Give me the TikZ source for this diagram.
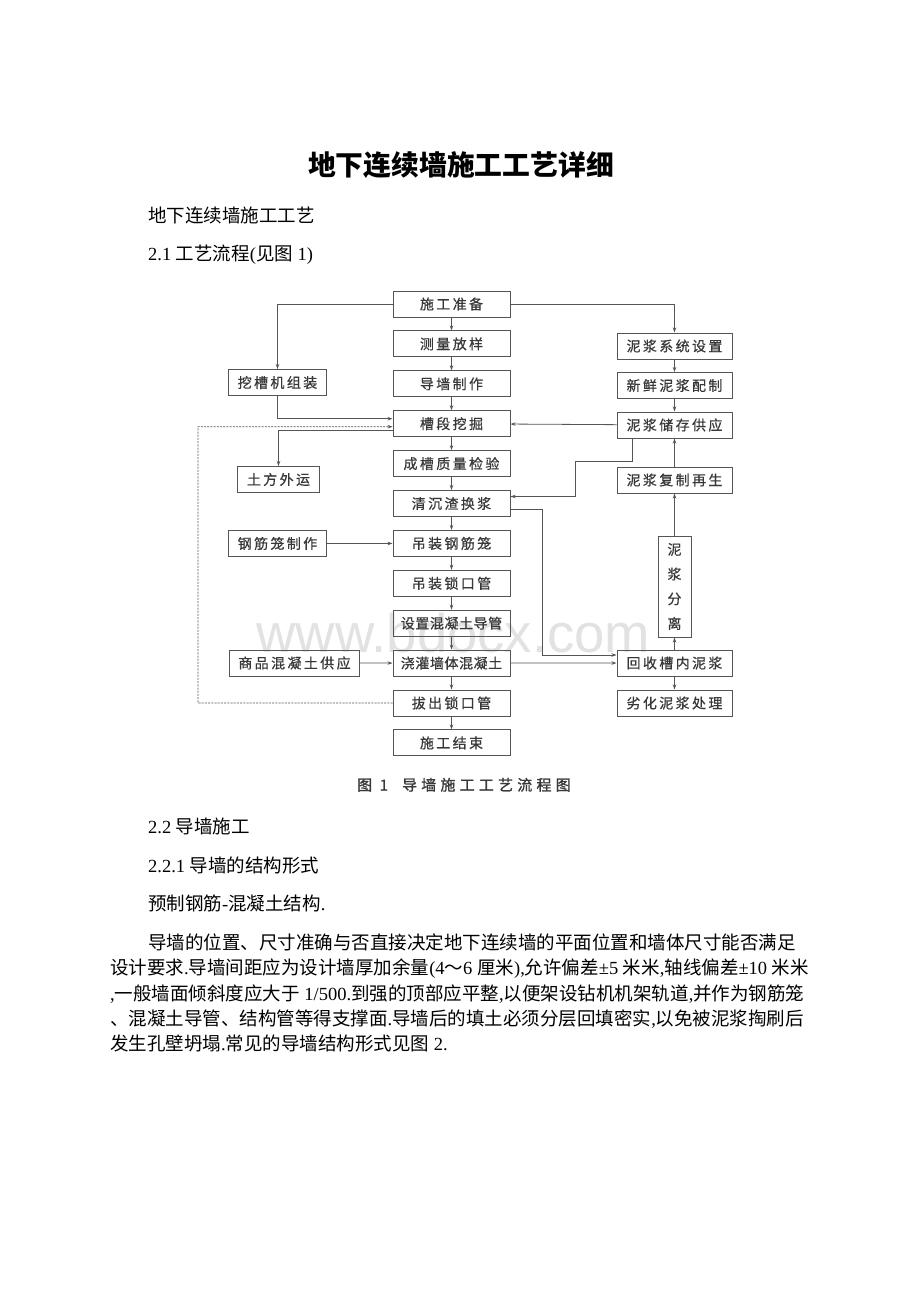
\documentclass[tikz,border=0pt]{standalone}
\usepackage{fontspec}
\setmainfont{Liberation Serif}
\newfontfamily\cjk{Noto Sans CJK SC}
\newfontfamily\boxfont[LetterSpace=17, FakeBold=0.6]{Noto Sans CJK SC}
\newfontfamily\tightfont[LetterSpace=4, FakeBold=0.6]{Noto Sans CJK SC}
\newfontfamily\capfont[LetterSpace=28, FakeBold=1.2]{Noto Sans CJK SC}
\newfontfamily\wmfont{Liberation Sans}
\usetikzlibrary{arrows.meta}

\definecolor{boxgray}{HTML}{555555}
\definecolor{textgray}{HTML}{383838}
\definecolor{markgray}{HTML}{E2E2E2}

\tikzstyle{mainbox}=[rectangle, minimum width=117pt, minimum height=26pt, inner xsep=2pt, text centered, draw=boxgray, line width=1pt, text=textgray, font=\boxfont\fontsize{14}{16}\selectfont]
\tikzstyle{longbox}=[mainbox, font=\tightfont\fontsize{14}{16}\selectfont]
\tikzstyle{sidebox}=[mainbox, minimum width=115pt]
\tikzstyle{leftbox}=[mainbox, minimum width=0pt, inner xsep=9pt]
\tikzstyle{arrow}=[draw=boxgray, line width=0.8pt, -{Stealth[length=5pt,width=3.5pt]}]
\tikzstyle{dotline}=[arrow, dash pattern=on 2pt off 1.2pt, line width=0.6pt]
\tikzstyle{bodytext}=[anchor=base west, inner sep=0pt, font=\fontsize{18.5}{22}\selectfont]

\begin{document}
\begin{tikzpicture}[x=1pt, y=-1pt, node distance=39.9pt]

\fill[white] (0,0) rectangle (920,1302);
\useasboundingbox (0,0) rectangle (920,1302);

% page text above the chart
\node(title)[anchor=base, inner sep=0pt, font=\cjk\bfseries\fontsize{27.8}{32}\selectfont] at (461,175.5){地下连续墙施工工艺详细};
\node(s0)[bodytext] at (148,222){{\cjk 地下连续墙施工工艺}};
\node(s1)[bodytext] at (148,260){2.1 {\cjk 工艺流程}({\cjk 见图} 1)};

% watermark
\node(wm)[anchor=base, inner sep=0pt, text=markgray, font=\wmfont\fontsize{54.5}{60}\selectfont] at (453.5,652){www.bdocx.com};

% main column
\node(m0)[mainbox] at (451.5,304){施工准备};
\node(m1)[mainbox, below of=m0]{测量放样};
\node(m2)[mainbox, below of=m1]{导墙制作};
\node(m3)[mainbox, below of=m2]{槽段挖掘};
\node(m4)[mainbox, below of=m3]{成槽质量检验};
\node(m5)[mainbox, below of=m4]{清沉渣换浆};
\node(m6)[mainbox, below of=m5]{吊装钢筋笼};
\node(m7)[mainbox, below of=m6]{吊装锁口管};
\node(m8)[longbox, below of=m7]{设置混凝土导管};
\node(m9)[longbox, below of=m8]{浇灌墙体混凝土};
\node(m10)[mainbox, below of=m9]{拔出锁口管};
\node(m11)[mainbox, below of=m10]{施工结束};

% left side
\node(l1)[leftbox] at (277.5,382.5){挖槽机组装};
\node(l2)[leftbox] at (278.5,479.5){土方外运};
\node(l3)[leftbox] at (277.5,543.5){钢筋笼制作};
\node(l4)[leftbox] at (294.5,663){商品混凝土供应};

% slurry side
\node(r1)[sidebox] at (674.5,346){泥浆系统设置};
\node(r2)[sidebox] at (674.5,385.5){新鲜泥浆配制};
\node(r3)[sidebox] at (674.5,425){泥浆储存供应};
\node(r4)[sidebox] at (674.5,480){泥浆复制再生};
\node(r5)[mainbox, minimum width=33pt, minimum height=101pt, inner xsep=0pt, align=center, font=\boxfont\fontsize{14}{24.7}\selectfont] at (674.5,586.5){泥\\浆\\分\\离};
\node(r6)[sidebox] at (674.5,663){回收槽内泥浆};
\node(r7)[sidebox] at (674.5,703){劣化泥浆处理};

\coordinate(c1) at (575,461);
\coordinate(dl) at (198,703);

\draw[arrow](m0)--(m1);
\draw[arrow](m1)--(m2);
\draw[arrow](m2)--(m3);
\draw[arrow](m3)--(m4);
\draw[arrow](m4)--(m5);
\draw[arrow](m5)--(m6);
\draw[arrow](m6)--(m7);
\draw[arrow](m7)--(m8);
\draw[arrow](m8)--(m9);
\draw[arrow](m9)--(m10);
\draw[arrow](m10)--(m11);

\draw[arrow](m0.west) -| (l1.north);
\draw[arrow](l1.south) |- ([yshift=5pt]m3.west);
\draw[dotline](m10.west) -- (dl) |- ([yshift=-3pt]m3.west);
\draw[arrow]([yshift=-7pt]m3.west) -| (l2.north);
\draw[arrow](l3) -- (m6);
\draw[arrow](l4) -- (m9);

\draw[arrow](m0.east) -| (r1.north);
\draw[arrow](r1)--(r2);
\draw[arrow](r2)--(r3);
\draw[arrow](r3) -- (m3);
\draw[arrow]([xshift=-42.5pt]r3.south) |- (c1) |- ([yshift=7pt]m5.east);
\draw[arrow]([yshift=-6pt]m5.east) -- ++(32,0) |- ([yshift=8pt]r6.west);
\draw[arrow](m9) -- (r6);
\draw[arrow](r6) -- (r5);
\draw[arrow](r5) -- (r4);
\draw[arrow](r4) -- (r3);
\draw[arrow](r6) -- (r7);

% caption
\node(cap)[anchor=base west, inner sep=0pt, text=textgray, font=\capfont\fontsize{15}{18}\selectfont] at (357,790.5){图 1\hspace{14pt}导墙施工工艺流程图};

% page text below the chart
\node(s2)[bodytext] at (148,833){2.2 {\cjk 导墙施工}};
\node(s3)[bodytext] at (148,872){2.2.1 {\cjk 导墙的结构形式}};
\node(s4)[bodytext] at (148,910.5){{\cjk 预制钢筋}-{\cjk 混凝土结构}.};
\node(p1)[bodytext] at (148,949){{\cjk 导墙的位置、尺寸准确与否直接决定地下连续墙的平面位置和墙体尺寸能否满足}};
\node(p2)[bodytext] at (110,974.5){{\cjk 设计要求}.{\cjk 导墙间距应为设计墙厚加余量}(4{\cjk ～}6 {\cjk 厘米}),{\cjk 允许偏差}±5 {\cjk 米米},{\cjk 轴线偏差}±10 {\cjk 米米}};
\node(p3)[bodytext] at (110,1000){,{\cjk 一般墙面倾斜度应大于} 1/500.{\cjk 到强的顶部应平整},{\cjk 以便架设钻机机架轨道},{\cjk 并作为钢筋笼}};
\node(p4)[bodytext] at (110,1025){{\cjk 、混凝土导管、结构管等得支撑面}.{\cjk 导墙后的填土必须分层回填密实},{\cjk 以免被泥浆掏刷后}};
\node(p5)[bodytext] at (110,1050){{\cjk 发生孔壁坍塌}.{\cjk 常见的导墙结构形式见图} 2.};

\end{tikzpicture}
\end{document}
